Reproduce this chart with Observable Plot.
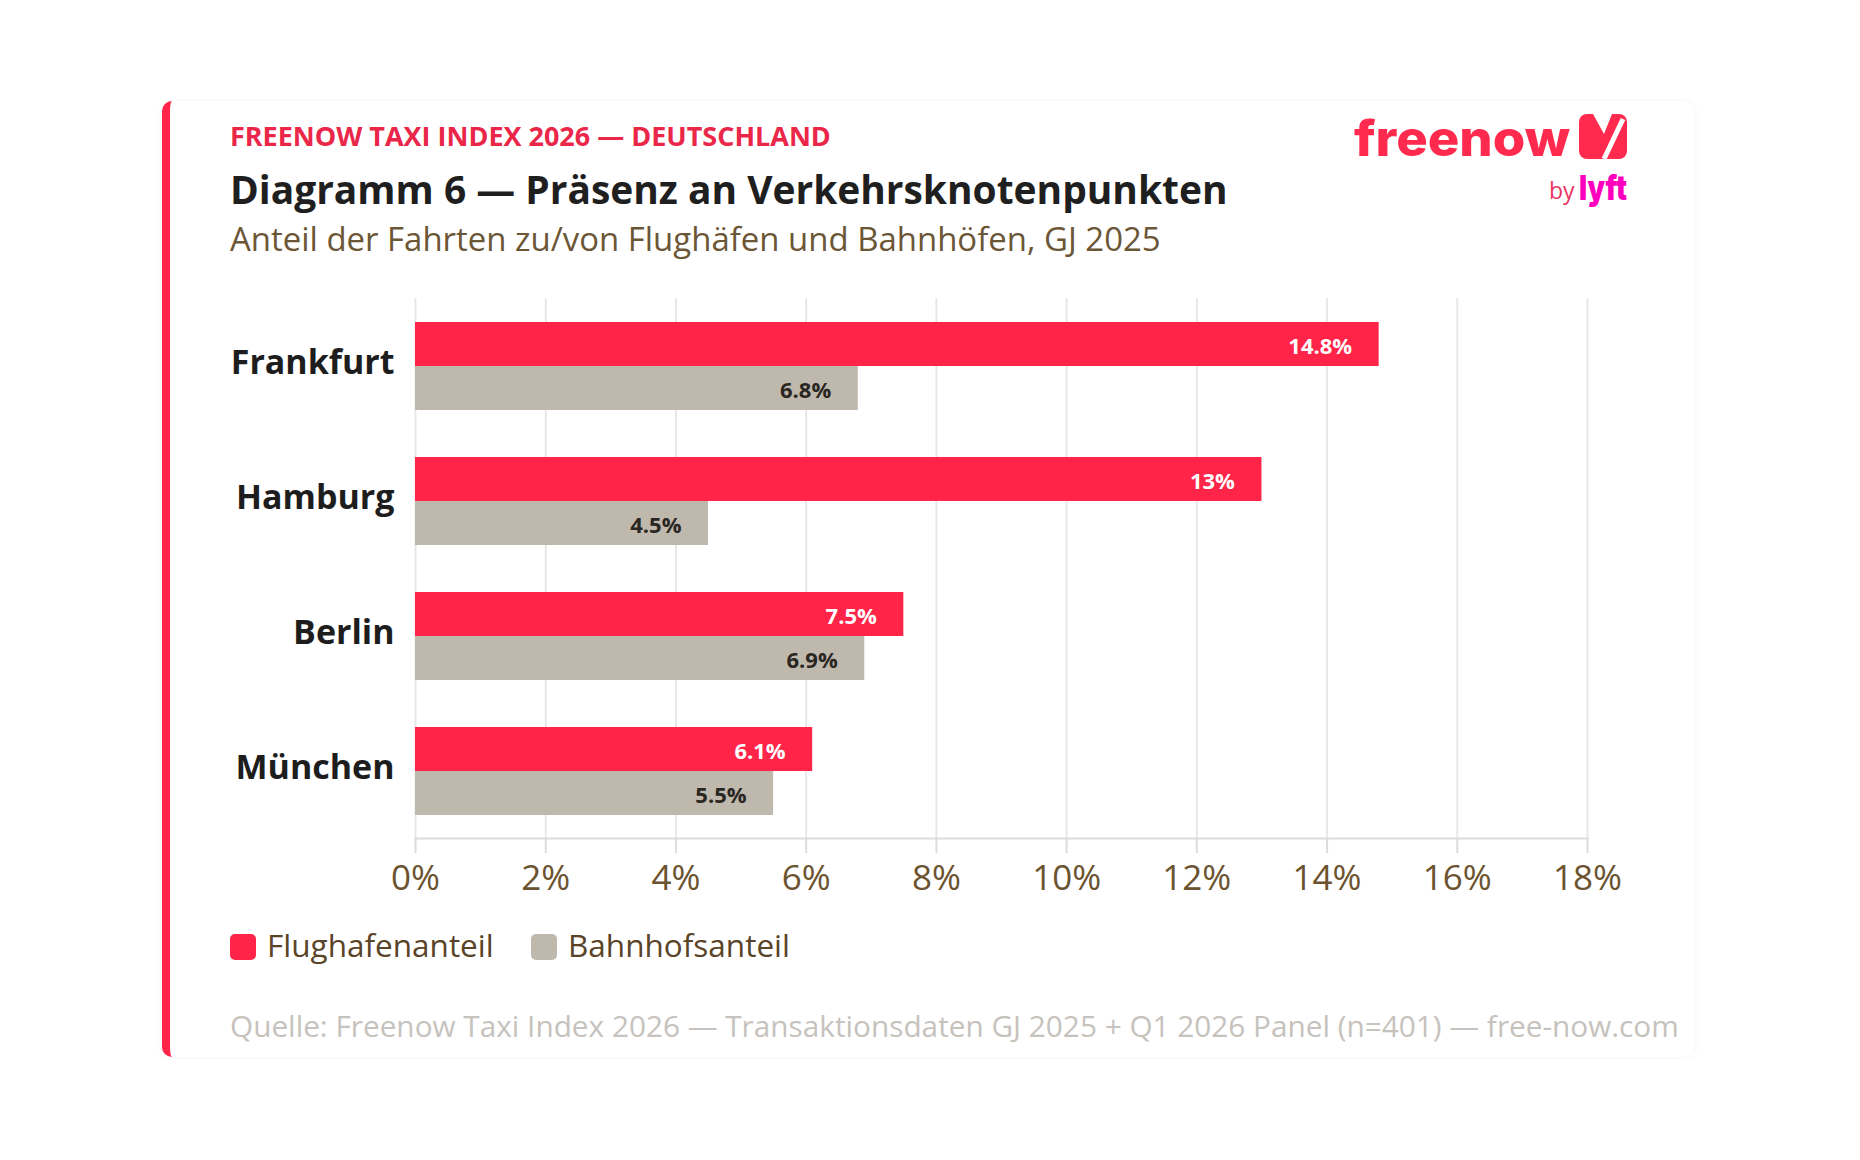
<!DOCTYPE html>
<html>
<head>
<meta charset="utf-8">
<script src="https://cdn.jsdelivr.net/npm/d3@7"></script>
<script src="https://cdn.jsdelivr.net/npm/@observablehq/plot@0.6"></script>
<style>
  body { margin: 0; background: #fff; width: 1860px; height: 1160px; overflow: hidden; font-family: 'Open Sans', sans-serif; }
  #page { position: relative; width: 1860px; height: 1160px; }
  .card { position: absolute; left: 162px; top: 101px; width: 1532px; height: 956px; border-left: 8px solid #ff2448; border-radius: 10px; box-shadow: 0 0 6px rgba(0,0,0,0.05); box-sizing: border-box; background: #fff; }
  .t { position: absolute; white-space: nowrap; line-height: 1; }
  #chart { position: absolute; left: 230px; top: 280px; }
  .sw { position: absolute; width: 26px; height: 26px; border-radius: 5px; }
</style>
</head>
<body>
<div id="page">
  <div class="card"></div>
  <div id="kicker" class="t" style="font-size:23px;font-weight:700;color:#ea2649;">FREENOW TAXI INDEX 2026 — DEUTSCHLAND</div>
  <div id="title" class="t" style="font-size:38px;font-weight:700;color:#1f1f1f;">Diagramm 6 — Präsenz an Verkehrsknotenpunkten</div>
  <div id="subtitle" class="t" style="font-size:32px;font-weight:400;color:#6b5636;">Anteil der Fahrten zu/von Flughäfen und Bahnhöfen, GJ 2025</div>
  <svg id="logo" style="position:absolute;left:1350px;top:110px;overflow:visible" width="290" height="100" viewBox="0 0 290 100">
    <text x="4" y="46" font-family="Inter, 'Open Sans', sans-serif" font-weight="800" font-size="49" fill="#ff2a4d" textLength="216" lengthAdjust="spacingAndGlyphs">freenow</text>
    <rect x="229" y="4" width="48" height="45" rx="8" fill="#ff2a4d"></rect>
    <path d="M243 4 L262 4 L254 24 Z" fill="#fff"></path>
    <path d="M273 9 L254 49" stroke="#fff" stroke-width="5" fill="none"></path>
    <text x="199" y="89" font-family="'Open Sans', sans-serif" font-weight="500" font-size="23" fill="#e8365f">by</text>
    <text x="229" y="90" font-family="Inter, 'Open Sans', sans-serif" font-weight="900" font-size="34" fill="#ff00bf" textLength="48" lengthAdjust="spacingAndGlyphs">lyft</text>
  </svg>
  <div id="chart"></div>
  <div id="legend"></div>
  <div id="caption" class="t" style="font-size:29px;color:#c6c2bd;">Quelle: Freenow Taxi Index 2026 — Transaktionsdaten GJ 2025 + Q1 2026 Panel (n=401) — free-now.com</div>
</div>
<script>
// ---- data ----
const cities = ["Frankfurt", "Hamburg", "Berlin", "München"];
const airportShare = [14.8, 13, 7.5, 6.1];
const railShare = [6.8, 4.5, 6.9, 5.5];
const seriesNames = ["Flughafenanteil", "Bahnhofsanteil"];
const seriesColors = ["#ff2448", "#bfb8ad"];
const labelColors = ["#ffffff", "#2a2622"];
const xTicks = [0, 2, 4, 6, 8, 10, 12, 14, 16, 18];
const xTickLabels = ["0%", "2%", "4%", "6%", "8%", "10%", "12%", "14%", "16%", "18%"];

const data = cities.flatMap((city, i) => [
  {city, series: seriesNames[0], value: airportShare[i]},
  {city, series: seriesNames[1], value: railShare[i]}
]);

// ---- text placement helpers ----
function place(el, x, baseline, targetWidth) {
  el.style.left = x + "px";
  el.style.top = "0px";
  if (targetWidth) {
    const w = el.getBoundingClientRect().width;
    const s = parseFloat(el.style.fontSize);
    el.style.fontSize = (s * targetWidth / w) + "px";
  }
  const m = document.createElement("span");
  m.style.display = "inline-block"; m.style.width = "0"; m.style.height = "0";
  el.appendChild(m);
  const b = m.getBoundingClientRect().top - el.getBoundingClientRect().top;
  el.removeChild(m);
  el.style.top = (baseline - b) + "px";
}
place(document.getElementById("kicker"), 230, 146, 601);
place(document.getElementById("title"), 230, 204, 998);
place(document.getElementById("subtitle"), 230, 251, 931);
place(document.getElementById("caption"), 230, 1037, 1450);

// ---- chart ----
const chart = Plot.plot({
  width: 1420,
  height: 620,
  marginLeft: 185,
  marginRight: 63,
  marginTop: 17,
  marginBottom: 61,
  style: {fontFamily: "'Open Sans', sans-serif", background: "transparent", overflow: "visible"},
  x: {domain: [0, 18]},
  y: {domain: seriesNames, paddingInner: 0, paddingOuter: 0.52, axis: null},
  fy: {domain: cities, paddingInner: 0, paddingOuter: 0, label: null},
  color: {domain: seriesNames, range: seriesColors},
  marks: [
    Plot.gridX(xTicks, {stroke: "#e7e7e7", strokeOpacity: 1, strokeWidth: 2}),
    Plot.barX(data, {fy: "city", y: "series", x: "value", fill: "series"}),
    Plot.text(data, {
      fy: "city", y: "series", x: "value",
      text: d => d.value + "%",
      textAnchor: "end", dx: -27, dy: 2,
      fill: d => labelColors[seriesNames.indexOf(d.series)],
      fontWeight: 700, fontSize: 22
    }),
    Plot.axisFy({anchor: "left", tickSize: 0, tickPadding: 21, fontSize: 34, fontWeight: 700, fill: "#1d1d1d", label: null, dy: -3}),
    Plot.axisX(xTicks, {
      tickSize: 15, tickPadding: 12, stroke: "#dcdcdc", strokeWidth: 2, strokeOpacity: 1,
      fill: "#6b5330", fontSize: 35, label: null,
      tickFormat: d => xTickLabels[xTicks.indexOf(d)]
    }),
    Plot.frame({anchor: "bottom", facetAnchor: "bottom", stroke: "#dcdcdc", strokeWidth: 2})
  ]
});
document.getElementById("chart").appendChild(chart);

// ---- legend ----
const legend = document.getElementById("legend");
const legendX = [230, 531];
seriesNames.forEach((name, i) => {
  const sw = document.createElement("div");
  sw.className = "sw";
  sw.style.left = legendX[i] + "px";
  sw.style.top = "934px";
  sw.style.background = seriesColors[i];
  legend.appendChild(sw);
  const t = document.createElement("div");
  t.className = "t";
  t.style.fontSize = "31.5px";
  t.style.color = "#5a4428";
  t.textContent = name;
  legend.appendChild(t);
  place(t, legendX[i] + 37, 957);
});
</script>
</body>
</html>
